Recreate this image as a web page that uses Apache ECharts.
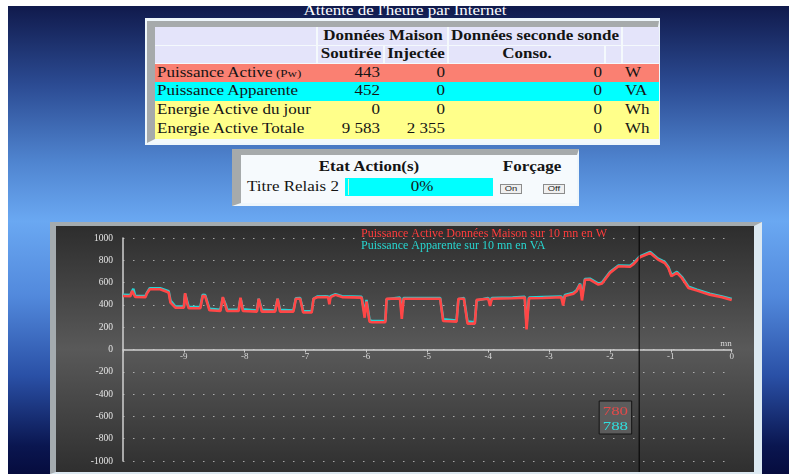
<!DOCTYPE html>
<html>
<head>
<meta charset="utf-8">
<script src="https://cdn.jsdelivr.net/npm/echarts@6/dist/echarts.min.js"></script>
<style>
html,body{margin:0;padding:0;width:789px;height:474px;overflow:hidden;background:#ffffff;font-family:"Liberation Serif","Times New Roman",serif;}
#bg{position:absolute;left:8px;top:6px;width:781px;height:468px;
 background:linear-gradient(to bottom,#101a4c 0px,#2c4c94 80px,#4f84cf 155px,#6aa8f2 215px,#5289dc 290px,#2a50a6 370px,#0a1650 440px,#060c3e 468px);}
.t{position:absolute;white-space:nowrap;line-height:1;font-size:13.6px;color:#141414;}
.c{transform:translate(-50%,-50%) scaleX(1.25);}
.l{transform-origin:0 50%;transform:translate(0,-50%) scaleX(1.25);}
.r{transform-origin:100% 50%;transform:translate(-100%,-50%) scaleX(1.25);}
.b{font-weight:bold;}
.box{position:absolute;box-sizing:border-box;}
#chart{position:absolute;left:56px;top:226px;width:698px;height:246px;}
</style>
</head>
<body>
<div id="bg"></div>
<div class="box" style="left:50px;top:222px;width:712px;height:252px;border-left:6px solid #a4abaf;border-top:4px solid #a4abaf;border-right:8px solid #dce9f2;border-bottom:2px solid #dce9f2;"></div>
<div id="chart"></div>
<script>
// ---------- page texts ----------
const TITLE = "Attente de l'heure par Internet";
const HEAD_GROUPS = ['Données Maison', 'Données seconde sonde'];
const HEAD_COLS = ['Soutirée', 'Injectée', 'Conso.'];
const ROW_LABELS = ['Puissance Active', 'Puissance Apparente', 'Energie Active du jour', 'Energie Active Totale'];
const ROW_NOTES = ['(Pw)', '', '', ''];
const SOUTIREE = ['443', '452', '0', '9 583'];
const INJECTEE = ['0', '0', '0', '2 355'];
const CONSO = ['0', '0', '0', '0'];
const UNITS = ['W', 'VA', 'Wh', 'Wh'];
const ACTION_HEAD = 'Etat Action(s)';
const FORCE_HEAD = 'Forçage';
const ACTION_LABEL = 'Titre Relais 2';
const ACTION_VALUE = '0%';
const BUTTONS = ['On', 'Off'];

// ---------- chart data ----------
const NAME_ACTIVE = 'Puissance Active Données Maison sur 10 mn en W';
const NAME_APPARENT = 'Puissance Apparente sur 10 mn en VA';
const X_NAME = 'mn';
const TIME_MN = [
 -10.00,-9.88,-9.85,-9.83,-9.80,-9.63,-9.61,-9.56,-9.39,-9.25,
 -9.22,-9.14,-9.00,-8.98,-8.94,-8.92,-8.73,-8.69,-8.65,-8.58,
 -8.40,-8.36,-8.31,-8.29,-8.10,-8.07,-8.03,-7.80,-7.77,-7.72,
 -7.50,-7.46,-7.42,-7.20,-7.16,-7.09,-7.04,-6.90,-6.87,-6.81,
 -6.68,-6.63,-6.61,-6.59,-6.57,-6.51,-6.40,-6.08,-6.03,-6.00,
 -5.95,-5.91,-5.69,-5.67,-5.45,-5.42,-5.39,-4.79,-4.74,-4.52,
 -4.49,-4.40,-4.34,-4.22,-4.19,-4.00,-3.97,-3.94,-3.60,-3.40,
 -3.37,-3.33,-3.10,-2.80,-2.77,-2.74,-2.71,-2.60,-2.55,-2.49,
 -2.46,-2.41,-2.33,-2.19,-2.13,-2.00,-1.86,-1.67,-1.62,-1.51,
 -1.34,-1.31,-1.21,-1.10,-1.04,-0.99,-0.90,-0.82,-0.71,-0.57,
 -0.36,-0.16,0.00];
const ACTIVE_W = [
 480,478,525,530,472,470,500,540,540,512,
 420,375,375,505,400,370,370,483,478,352,
 345,470,380,345,345,465,345,340,455,340,
 340,455,340,340,455,455,332,332,455,468,
 470,468,405,470,485,490,470,465,285,430,
 250,245,245,455,458,275,455,455,255,250,
 455,455,232,232,445,455,390,455,460,465,
 180,460,462,468,395,480,490,500,522,585,
 440,625,627,582,592,687,746,742,762,827,
 866,878,806,776,731,657,687,642,552,528,
 492,468,443];
const APPARENT_VA = [
 490,488,520,545,482,480,505,550,550,522,
 440,385,385,500,420,380,380,490,488,365,
 355,465,400,355,355,460,360,350,455,355,
 350,455,355,350,460,462,345,342,455,475,
 478,476,440,478,492,495,478,472,320,445,
 265,255,255,450,465,330,462,462,270,260,
 450,462,250,245,440,462,420,462,467,472,
 230,465,470,476,430,488,498,508,530,590,
 480,632,635,590,600,695,754,750,770,835,
 874,886,815,785,740,668,695,652,562,537,
 500,476,452];
const Y_MIN = -1000, Y_MAX = 1000, Y_STEP = 200;
const X_MIN = -10, X_MAX = 0, X_STEP = 1;
const CURSOR_T = -1.52;
const TIP_ACTIVE = '780';
const TIP_APPARENT = '788';

// ---------- DOM helpers ----------
function box(x, y, w, h, css) {
  const d = document.createElement('div');
  d.className = 'box';
  d.style.left = x + 'px'; d.style.top = y + 'px';
  d.style.width = w + 'px'; d.style.height = h + 'px';
  if (css) d.style.cssText += css;
  document.body.appendChild(d);
  return d;
}
function txt(s, x, y, align, extra, css) {
  const e = document.createElement('span');
  e.className = 't ' + align + (extra ? ' ' + extra : '');
  e.style.left = x + 'px'; e.style.top = y + 'px';
  e.textContent = s;
  if (css) e.style.cssText += css;
  document.body.appendChild(e);
  return e;
}

// title
txt(TITLE, 405, 11.2, 'c', '', 'color:#ffffff;');

// ---------- table 1 ----------
box(145, 18, 515, 127, 'background:#eef6fb;');
box(146.5, 20.5, 512.5, 122.5, 'background:#f4f9fc;border-left:8.5px solid #a6aaab;border-top:6px solid #a6aaab;border-right:1.5px solid #f2f8fc;border-bottom:4px solid #f2f8fc;');
const CX = [155, 317, 384, 448, 605, 622, 658.5];
const RY = [26.5, 45, 63.5, 82, 100.5, 119.5, 138.5];
const headerSpans = [[[0,1],[1,3],[3,5],[5,6]], [[0,1],[1,2],[2,3],[3,4],[4,5],[5,6]]];
headerSpans.forEach((spans, r) => {
  spans.forEach(([a, b]) => {
    const x0 = CX[a] + (a > 0 ? 0.75 : 0);
    const x1 = CX[b] - (b < 6 ? 0.75 : 0);
    const y0 = RY[r] + (r > 0 ? 0.5 : 0);
    const y1 = RY[r + 1] - 0.5;
    box(x0, y0, x1 - x0, y1 - y0, 'background:#e4e4fa;');
  });
});
const rowColors = ['#fa8072', '#00ffff', '#ffff8a', '#ffff8a'];
ROW_LABELS.forEach((lab, i) => {
  const y0 = RY[i + 2], y1 = RY[i + 3];
  box(CX[0], y0, CX[6] - CX[0], y1 - y0, 'background:' + rowColors[i] + ';');
});
const yc = r => (RY[r] + RY[r + 1]) / 2;
txt(HEAD_GROUPS[0], (CX[1] + CX[3]) / 2, yc(0), 'c', 'b');
txt(HEAD_GROUPS[1], (CX[3] + CX[5]) / 2, yc(0), 'c', 'b');
txt(HEAD_COLS[0], (CX[1] + CX[2]) / 2, yc(1), 'c', 'b');
txt(HEAD_COLS[1], (CX[2] + CX[3]) / 2, yc(1), 'c', 'b');
txt(HEAD_COLS[2], (CX[3] + CX[4]) / 2, yc(1), 'c', 'b');
ROW_LABELS.forEach((lab, i) => {
  const y = yc(i + 2);
  const e = txt(lab, 157, y, 'l');
  if (ROW_NOTES[i]) {
    const s = document.createElement('span');
    s.style.fontSize = '10.5px';
    s.textContent = ' ' + ROW_NOTES[i];
    e.appendChild(s);
  }
  txt(SOUTIREE[i], CX[2] - 4, y, 'r');
  txt(INJECTEE[i], CX[3] - 3, y, 'r');
  txt(CONSO[i], CX[4] - 3.5, y, 'r');
  txt(UNITS[i], CX[5] + 3, y, 'l');
});

// ---------- table 2 ----------
box(232, 148.5, 346.5, 57, 'background:#f6fafd;border-left:9.5px solid #a6aaab;border-top:6px solid #a6aaab;border-right:2px solid #eef6fb;border-bottom:3px solid #eef6fb;');
txt(ACTION_HEAD, 369, 167, 'c', 'b');
txt(FORCE_HEAD, 532, 167, 'c', 'b');
txt(ACTION_LABEL, 246.5, 187, 'l');
box(345, 178, 148, 18, 'background:#00ffff;');
box(347.5, 179, 1, 16, 'background:#d8f8c8;');
txt(ACTION_VALUE, 421.5, 187, 'c');
[[499.5, BUTTONS[0]], [542.5, BUTTONS[1]]].forEach(([x, lab]) => {
  box(x, 183.5, 22, 10, 'background:#efefef;border:1px solid #8c8c8c;');
  txt(lab, x + 11, 188.6, 'c', '', 'font-family:"Liberation Sans",Arial,sans-serif;font-size:7.5px;color:#222;');
});

// ---------- chart ----------
const chart = echarts.init(document.getElementById('chart'), null, {renderer: 'canvas'});
const serifFont = '"Liberation Serif","Times New Roman",serif';
const GRID = {left: 67, right: 22.3, top: 12, bottom: 11};
const gridH = 246 - GRID.top - GRID.bottom;
// distance from the bottom of the grid to the value 0 (axis sits on y = 0)
const zeroOffset = gridH * (0 - Y_MIN) / (Y_MAX - Y_MIN);
const option = {
  animation: false,
  backgroundColor: {type: 'linear', x: 0, y: 0, x2: 0, y2: 1,
    colorStops: [{offset: 0, color: '#2d2d2d'}, {offset: 0.5, color: '#595959'}, {offset: 1, color: '#2f2f2f'}]},
  grid: GRID,
  legend: {
    orient: 'vertical', left: 300, top: 2, itemGap: 0, itemWidth: 0, itemHeight: 10,
    icon: 'none', selectedMode: false, padding: 0,
    textStyle: {fontFamily: serifFont, fontSize: 12, lineHeight: 10},
    data: [
      {name: NAME_ACTIVE, textStyle: {color: '#ff3c3c'}},
      {name: NAME_APPARENT, textStyle: {color: '#27d6d0'}}
    ]
  },
  xAxis: {
    type: 'value', min: X_MIN, max: X_MAX, interval: X_STEP,
    position: 'bottom', offset: -zeroOffset,
    name: X_NAME, nameLocation: 'end', nameGap: 0,
    nameTextStyle: {color: '#d8d8d8', fontSize: 9, fontFamily: serifFont, align: 'right', verticalAlign: 'bottom', padding: [0, 0, 1, 0]},
    axisLine: {onZero: false, lineStyle: {color: '#d0d0d0', width: 1.5}},
    axisTick: {show: true, length: 3, lineStyle: {color: '#cccccc'}},
    axisLabel: {color: '#dcdcdc', fontSize: 9, fontFamily: serifFont, margin: 3,
      formatter: v => (v === X_MIN ? '' : String(v))},
    splitLine: {show: false}
  },
  yAxis: {
    type: 'value', min: Y_MIN, max: Y_MAX, interval: Y_STEP,
    axisLine: {show: true, onZero: false, lineStyle: {color: '#d0d0d0', width: 1.5}},
    axisTick: {show: false},
    axisLabel: {color: '#e6e6e6', fontSize: 9.5, fontFamily: serifFont, margin: 10,
      formatter: v => String(v)},
    splitLine: {show: true, lineStyle: {color: 'rgba(205,205,205,0.75)', width: 1, type: [1.5, 8.5]}}
  },
  series: [
    {
      name: NAME_APPARENT, type: 'line', showSymbol: false, z: 2,
      lineStyle: {color: '#27d3d3', width: 2.6}, itemStyle: {color: '#27d3d3'},
      data: TIME_MN.map((t, i) => [t, APPARENT_VA[i]])
    },
    {
      name: NAME_ACTIVE, type: 'line', showSymbol: false, z: 3,
      lineStyle: {color: '#ff4646', width: 2.6}, itemStyle: {color: '#ff4646'},
      data: TIME_MN.map((t, i) => [t, ACTIVE_W[i]])
    }
  ]
};
chart.setOption(option);

const px = chart.convertToPixel({xAxisIndex: 0}, CURSOR_T);
chart.setOption({
  graphic: [
    {type: 'line', z: 100, shape: {x1: px, y1: 0, x2: px, y2: 246}, style: {stroke: '#000000', lineWidth: 1}},
    {type: 'rect', z: 100, shape: {x: px - 40, y: 175, width: 32.5, height: 33}, style: {fill: '#5c5c5c', stroke: '#141414', lineWidth: 1}},
    {type: 'text', z: 101, x: px - 23.8, y: 185.5, scaleX: 1.3,
      style: {text: TIP_ACTIVE, fill: '#e24a4a', font: '13px "Liberation Serif", serif', align: 'center', verticalAlign: 'middle'}},
    {type: 'text', z: 101, x: px - 23.8, y: 200.5, scaleX: 1.3,
      style: {text: TIP_APPARENT, fill: '#30dede', font: '13px "Liberation Serif", serif', align: 'center', verticalAlign: 'middle'}}
  ]
});
</script>
</body>
</html>
